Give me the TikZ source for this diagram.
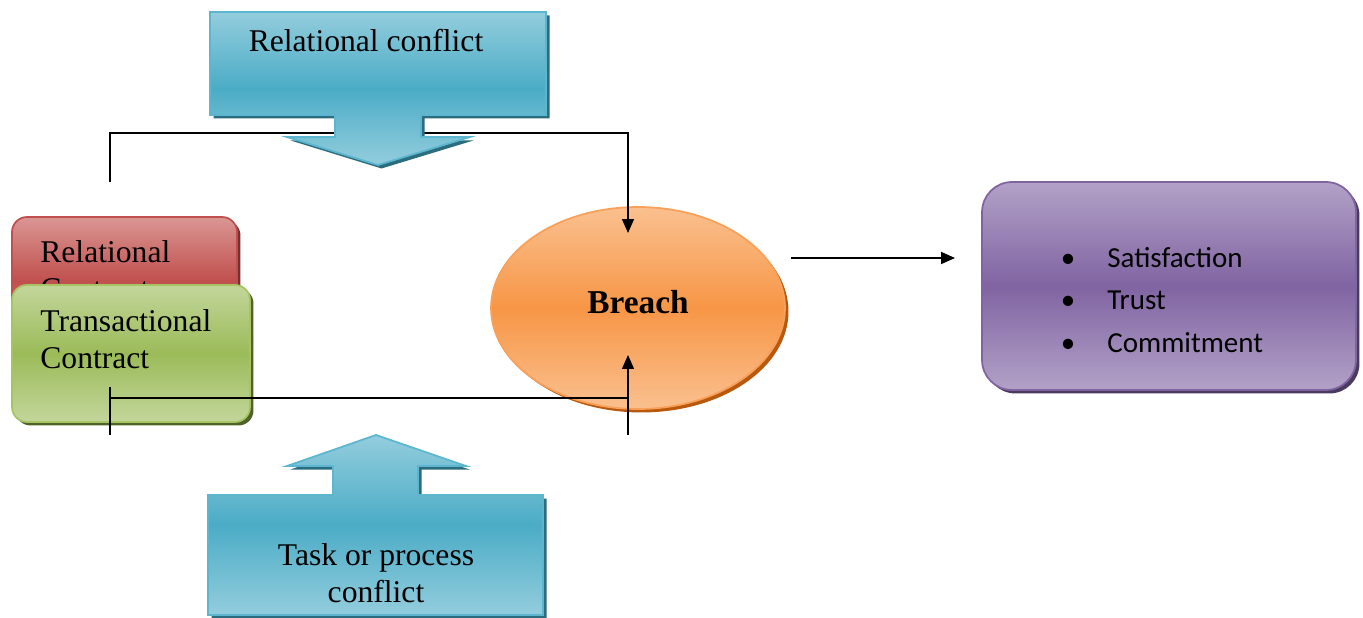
\documentclass[tikz,border=0pt]{standalone}
\usepackage{fontspec}
\setmainfont{Liberation Serif}
\newfontfamily\calib{Carlito}
\usetikzlibrary{shapes.geometric,shadows,arrows.meta}
\definecolor{blueL}{HTML}{93CDDD}
\definecolor{blueM}{HTML}{4BACC6}
\definecolor{blueE}{HTML}{5CB6CF}
\definecolor{blueS}{HTML}{2B6D7E}
\definecolor{redL}{HTML}{DA9694}
\definecolor{redM}{HTML}{C0504D}
\definecolor{redS}{HTML}{7A2D2B}
\definecolor{greenL}{HTML}{C3D69B}
\definecolor{greenM}{HTML}{9BBB59}
\definecolor{greenE}{HTML}{A6C463}
\definecolor{greenS}{HTML}{4F6228}
\definecolor{orL}{HTML}{FAC08F}
\definecolor{orM}{HTML}{F79646}
\definecolor{orE}{HTML}{F8A059}
\definecolor{orS}{HTML}{B8590E}
\definecolor{puL}{HTML}{B2A1C7}
\definecolor{puM}{HTML}{8064A2}
\definecolor{puS}{HTML}{4A3A60}
\begin{document}
\begin{tikzpicture}[x=0.02cm,y=-0.02cm,
  txt/.style={inner sep=0pt,font=\fontsize{18}{20.5}\selectfont},
  btxt/.style={inner sep=0pt,font=\calib\fontsize{16.5}{20}\selectfont},
  conn/.style={draw=black,line width=0.75pt},
  arr/.style={conn,-{Triangle[length=0.28cm,width=0.24cm]}},
  shadowed/.style={drop shadow={shadow xshift=0.07cm,shadow yshift=-0.07cm,opacity=1,fill=#1}},
  blueshape/.style={top color=blueL,bottom color=blueL,middle color=blueM,draw=blueE,line width=1pt,shadowed=blueS},
  redbox/.style={rectangle,rounded corners=0.3cm,minimum width=4.5cm,minimum height=2.56cm,top color=redL,bottom color=redL,middle color=redM,draw=redM,line width=1pt,shadowed=redS},
  greenbox/.style={rectangle,rounded corners=0.3cm,minimum width=4.76cm,minimum height=2.74cm,top color=greenL,bottom color=greenL,middle color=greenM,draw=greenE,line width=1pt,shadowed=greenS},
  breachst/.style={ellipse,inner sep=0pt,minimum width=5.88cm,minimum height=4.04cm,top color=orL,bottom color=orL,middle color=orM,draw=orE,line width=1pt,shadowed=orS},
  purplebox/.style={rectangle,rounded corners=0.6cm,minimum width=7.48cm,minimum height=4.16cm,top color=puL,bottom color=puL,middle color=puM,draw=puM,line width=1pt,shadowed=puS}
]
\useasboundingbox (0,0) rectangle (1363,618);

% Breach ellipse
\node[breachst] (breach) at (638,308) {};
\node[inner sep=0pt,font=\bfseries\fontsize{19}{22}\selectfont,anchor=base] (breacht) at (638,314) {Breach};

% Relational contract (behind)
\node[redbox] (rel) at (124.5,281) {};
\node[txt,anchor=base west] (relt1) at (40,263) {Relational};
\node[txt,anchor=base west] (relt2) at (40,299) {Contract};

% Transactional contract
\node[greenbox] (tra) at (131,353.5) {};
\node[txt,anchor=base west] (trat1) at (40,332) {Transactional};
\node[txt,anchor=base west] (trat2) at (40,368) {Contract};

% connector coordinates
\coordinate (a1) at (110,182);
\coordinate (a2) at (110,133);
\coordinate (a3) at (628,133);
\coordinate (a4) at (628,233);
\coordinate (b1) at (110,387);
\coordinate (b2) at (110,435);
\coordinate (b3) at (110,398);
\coordinate (b4) at (628,398);
\coordinate (b5) at (628,435);
\coordinate (b6) at (628,355);
\coordinate (r1) at (791,258);
\coordinate (r2) at (955,258);

\draw[arr] (a1) -- (a2) -- (a3) -- (a4);
\draw[conn] (b1) -- (b2);
\draw[conn] (b3) -- (b4);
\draw[arr] (b5) -- (b6);

% Relational conflict arrow (down)
\path[blueshape] (210,12) -- (546,12) -- (546,115) -- (421,115) -- (421,137) -- (470,137)
  -- (378,165) -- (287,137) -- (335,137) -- (335,115) -- (210,115) -- cycle;
\node[txt,anchor=base] (rc) at (366,52) {Relational conflict};

% Task or process conflict arrow (up)
\path[blueshape] (208,615) -- (543,615) -- (543,495) -- (418,495) -- (418,466) -- (466,466)
  -- (376,435) -- (287,466) -- (333,466) -- (333,495) -- (208,495) -- cycle;
\node[txt,anchor=base] (tp1) at (376,565) {Task or process};
\node[txt,anchor=base] (tp2) at (376,602) {conflict};

% Outcomes box
\node[purplebox] (out) at (1169,286) {};
\node[btxt,anchor=base] (o1b) at (1068,268) {•};
\node[btxt,anchor=base west] (o1) at (1107,268) {Satisfaction};
\node[btxt,anchor=base] (o2b) at (1068,310) {•};
\node[btxt,anchor=base west] (o2) at (1107,310) {Trust};
\node[btxt,anchor=base] (o3b) at (1068,353) {•};
\node[btxt,anchor=base west] (o3) at (1107,353) {Commitment};

\draw[arr,line width=1pt] (r1) -- (r2);
\end{tikzpicture}
\end{document}
